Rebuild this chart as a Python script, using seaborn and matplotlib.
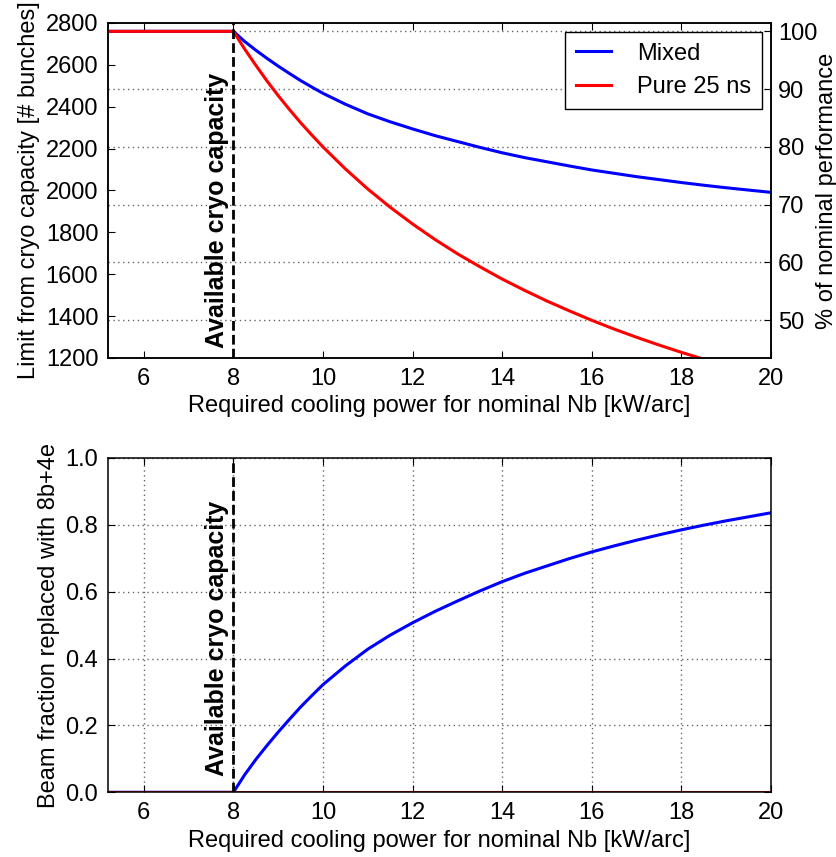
import matplotlib
matplotlib.use("Agg")
import matplotlib.pyplot as plt
import seaborn as sns
import numpy as np

# ---------------- data ----------------
power_kw = [5.2, 8.0, 8.25, 8.5, 8.75, 9.0, 9.25, 9.5, 9.75, 10.0, 10.5, 11.0, 11.5, 12.0, 12.5,
            13.0, 13.5, 14.0, 14.5, 15.0, 15.5, 16.0, 16.5, 17.0, 17.5, 18.0, 18.5,
            19.0, 19.5, 20.0]
bunches_mixed = [2760, 2760, 2712, 2670, 2631, 2594, 2559, 2525, 2494, 2464, 2412, 2366,
                 2328, 2294, 2262, 2234, 2206, 2180, 2157, 2137, 2117, 2098, 2082, 2066,
                 2052, 2038, 2025, 2013, 2002, 1991]
bunches_pure = [2760, 2760, 2676, 2598, 2523, 2453, 2387, 2324, 2265, 2208, 2103, 2007,
                1920, 1840, 1766, 1698, 1636, 1577, 1523, 1472, 1425, 1380, 1338, 1299,
                1262, 1227, 1194, 1162, 1132, 1104]
frac_mixed = [0.0, 0.0, 0.052, 0.098, 0.140, 0.180, 0.218, 0.255, 0.289, 0.322, 0.378,
              0.428, 0.470, 0.507, 0.541, 0.572, 0.602, 0.630, 0.655, 0.677, 0.699, 0.719,
              0.737, 0.754, 0.770, 0.785, 0.799, 0.812, 0.824, 0.836]
frac_pure = [0.0] * len(power_kw)

nominal_bunches = 2760
cryo_capacity = 8.0
series_labels = ["Mixed", "Pure 25 ns"]
x_ticks = [6, 8, 10, 12, 14, 16, 18, 20]
y_ticks_bunches = [1200, 1400, 1600, 1800, 2000, 2200, 2400, 2600, 2800]
y_ticks_percent = [50, 60, 70, 80, 90, 100]
y_ticks_frac = [0.0, 0.2, 0.4, 0.6, 0.8, 1.0]

# ---------------- style ----------------
plt.rcParams.update({
    "font.family": ["Liberation Sans", "DejaVu Sans"],
    "font.size": 17,
    "xtick.direction": "in",
    "ytick.direction": "in",
    "xtick.major.size": 5,
    "ytick.major.size": 5,
    "xtick.major.width": 0.8,
    "ytick.major.width": 0.8,
    "xtick.major.pad": 7,
    "ytick.major.pad": 7,
    "axes.linewidth": 1.1,
    "axes.edgecolor": "black",
    "grid.color": "0.4",
    "grid.linestyle": (0, (1, 2.5)),
    "grid.linewidth": 1.0,
    "figure.facecolor": "white",
    "axes.facecolor": "white",
})

fig = plt.figure(figsize=(8.37, 8.57), dpi=100)
ax1 = fig.add_axes([0.129, 0.5823, 0.792, 0.3909])
ax3 = fig.add_axes([0.129, 0.0755, 0.792, 0.3901])

LW = 2.2
xlim = (5.2, 20)
dash = (0, (3.5, 1.5))
text_kw = dict(rotation=90, ha="right", va="bottom", fontsize=18, fontweight="bold")

# ---------------- top panel ----------------
ax2 = ax1.twinx()
ax1.set_zorder(ax2.get_zorder() + 1)
ax1.patch.set_visible(False)

sns.lineplot(x=power_kw, y=bunches_mixed, ax=ax1, color="blue", lw=LW, label=series_labels[0])
sns.lineplot(x=power_kw, y=bunches_pure, ax=ax1, color="red", lw=LW, label=series_labels[1])
ax1.axvline(cryo_capacity, color="black", lw=2, ls=dash)
ax1.text(cryo_capacity - 0.1, 1250, "Available cryo capacity", **text_kw)

ax1.set_xlim(*xlim)
ax1.set_ylim(1200, 2800)
ax1.set_xticks(x_ticks)
ax1.set_yticks(y_ticks_bunches)
ax1.set_xlabel("Required cooling power for nominal Nb [kW/arc]", fontsize=17)
ax1.set_ylabel("Limit from cryo capacity [# bunches]", fontsize=17)
ax1.tick_params(labelsize=17, top=True, right=False)

ax2.set_ylim(1200 / nominal_bunches * 100, 2800 / nominal_bunches * 100)
ax2.set_yticks(y_ticks_percent)
ax2.set_ylabel("% of nominal performance", fontsize=17, labelpad=-1)
ax2.tick_params(labelsize=17, pad=5)
ax2.grid(True)

leg = ax1.legend(loc="upper right", fontsize=17, frameon=True, fancybox=False,
                 handlelength=1.5, handletextpad=1.1, borderpad=0.45,
                 labelspacing=0.5, borderaxespad=0.38)
leg.get_frame().set_edgecolor("black")
leg.get_frame().set_linewidth(1.0)
leg.get_frame().set_alpha(1)

# ---------------- bottom panel ----------------
sns.lineplot(x=power_kw, y=frac_mixed, ax=ax3, color="blue", lw=LW, legend=False)
sns.lineplot(x=power_kw, y=frac_pure, ax=ax3, color="red", lw=LW, legend=False)
ax3.axvline(cryo_capacity, color="black", lw=2, ls=dash)
ax3.text(cryo_capacity - 0.1, 0.05, "Available cryo capacity", **text_kw)

ax3.set_xlim(*xlim)
ax3.set_ylim(0, 1)
ax3.set_xticks(x_ticks)
ax3.set_yticks(y_ticks_frac)
ax3.set_yticklabels([f"{v:.1f}" for v in y_ticks_frac])
ax3.set_xlabel("Required cooling power for nominal Nb [kW/arc]", fontsize=17)
ax3.set_ylabel("Beam fraction replaced with 8b+4e", fontsize=17)
ax3.tick_params(labelsize=17, top=True, right=True)
ax3.grid(True)

fig.savefig("out.png", dpi=100, facecolor="white")
